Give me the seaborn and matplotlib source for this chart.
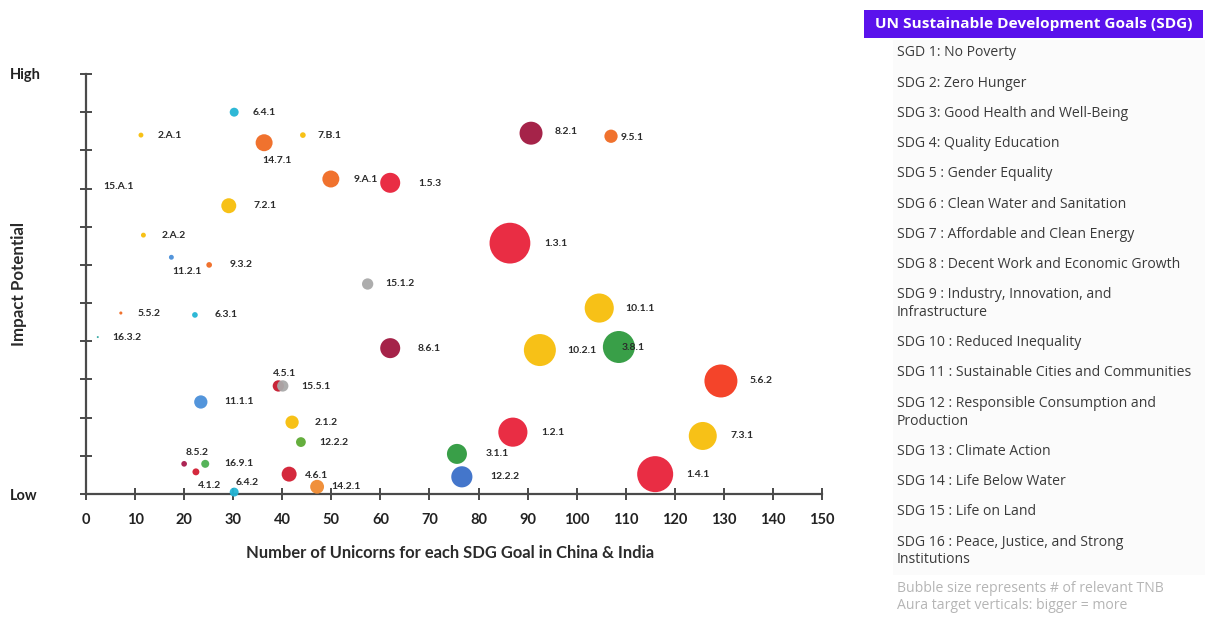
import matplotlib
matplotlib.use("Agg")
import matplotlib.pyplot as plt
import seaborn as sns
import pandas as pd
from matplotlib.patches import Rectangle

# ---- data -------------------------------------------------------------
targets = ["6.4.1", "2.A.1", "14.7.1", "7.B.1", "15.A.1", "9.A.1", "1.5.3",
           "7.2.1", "2.A.2", "11.2.1", "9.3.2", "8.2.1", "9.5.1", "1.3.1",
           "15.1.2", "5.5.2", "6.3.1", "16.3.2", "8.6.1", "4.5.1", "15.5.1",
           "11.1.1", "2.1.2", "12.2.2", "8.5.2", "16.9.1", "4.1.2", "4.6.1",
           "6.4.2", "14.2.1", "10.1.1", "10.2.1", "3.8.1", "5.6.2", "1.2.1",
           "7.3.1", "3.1.1", "12.2.2", "1.4.1"]
unicorns = [30.2, 11.2, 36.3, 44.2, 1.0, 49.9, 62.0,
            29.1, 11.7, 17.4, 25.1, 90.7, 107.0, 86.4,
            57.4, 7.1, 22.2, 2.4, 62.0, 39.2, 40.1,
            23.4, 42.0, 43.8, 20.0, 24.3, 22.4, 41.4,
            30.2, 47.1, 104.6, 92.5, 108.6, 129.4, 87.0,
            125.7, 75.6, 76.6, 116.0]
impact = [10.0, 9.4, 9.2, 9.4, 8.05, 8.25, 8.15,
          7.55, 6.78, 6.2, 6.0, 9.45, 9.37, 6.57,
          5.5, 4.74, 4.69, 4.11, 3.82, 2.83, 2.83,
          2.41, 1.88, 1.36, 0.79, 0.79, 0.58, 0.52,
          0.05, 0.19, 4.87, 3.77, 3.85, 2.96, 1.62,
          1.52, 1.05, 0.45, 0.52]
verticals = [5, 1.5, 18, 2, 0, 18, 25,
             14, 1.5, 1.5, 2, 33, 11, 104,
             8, 0.6, 2, 0.25, 25, 8, 8,
             11, 11, 6, 2, 4, 3, 14,
             5, 12, 53, 64, 64, 68, 53,
             49, 25, 28, 81]

impact_ticks = list(range(12))
impact_ticklabels = ["Low"] + [""] * 10 + ["High"]
unicorn_ticks = list(range(0, 151, 10))

sdg_items = ["SGD 1: No Poverty",
             "SDG 2: Zero Hunger",
             "SDG 3: Good Health and Well-Being",
             "SDG 4: Quality Education",
             "SDG 5 : Gender Equality",
             "SDG 6 : Clean Water and Sanitation",
             "SDG 7 : Affordable and Clean Energy",
             "SDG 8 : Decent Work and Economic Growth",
             "SDG 9 : Industry, Innovation, and\nInfrastructure",
             "SDG 10 : Reduced Inequality",
             "SDG 11 : Sustainable Cities and Communities",
             "SDG 12 : Responsible Consumption and\nProduction",
             "SDG 13 : Climate Action",
             "SDG 14 : Life Below Water",
             "SDG 15 : Life on Land",
             "SDG 16 : Peace, Justice, and Strong\nInstitutions"]
size_note = "Bubble size represents # of relevant TNB\nAura target verticals: bigger = more"

# ---- styling ----------------------------------------------------------
RED, YEL, ORG, CYA = "#E8213A", "#F7BE0A", "#F06A22", "#22B4D4"
MAR, BLU, GRY = "#A0173F", "#4A8FD9", "#A9A9A9"
bubble_colors = [CYA, YEL, ORG, YEL, "#FFFFFF", ORG, RED,
                 YEL, YEL, BLU, ORG, MAR, ORG, RED,
                 GRY, ORG, CYA, "#2BA5A0", MAR, "#C5192D", GRY,
                 BLU, YEL, "#5DAA33", "#A8194B", "#4CAF50", "#D21D32", "#D21D32",
                 CYA, "#F08A30", YEL, YEL, "#2E9A3E", "#F43A1E", RED,
                 YEL, "#2E9A3E", "#3A6FC9", RED]

# label offsets from bubble centre, in pixels (right, down)
label_offsets = [(18, 0), (17, 0), (-2, 18), (15, 0), (12, 0), (23, 0), (28, 1),
                 (25, 0), (18, 0), (1, 14), (20, 0), (24, -2), (10, 1), (34, 0),
                 (18, 0), (17, 0), (20, 0), (15, 0), (27, 0), (-5, -12), (19, 1),
                 (23, 0), (23, 0), (18, 0), (1, -11), (19, 0), (2, 14), (16, 1),
                 (1, -10), (14, 0), (26, 0), (27, 0), (3, 0), (29, 0), (28, 0),
                 (28, 0), (29, 0), (28, 0), (31, 0)]

sns.set_style("white")
plt.rcParams["font.family"] = ["Lato", "DejaVu Sans"]

df = pd.DataFrame({"target": targets, "unicorns": unicorns, "impact": impact,
                   "verticals": verticals, "colour": bubble_colors})

W, H = 1208, 617
fig = plt.figure(figsize=(W / 100, H / 100), dpi=100)
ax = fig.add_axes([86 / W, 1 - 494 / H, (822 - 86) / W, (494 - 74) / H])

# area proportional to verticals: diameter ~ 4 px * sqrt(verticals)
s_per_unit = (0.72 * 4) ** 2
vmax = max(verticals)
sns.scatterplot(data=df, x="unicorns", y="impact", hue="colour",
                palette={c: c for c in bubble_colors}, size="verticals",
                sizes=(0, s_per_unit * vmax), size_norm=(0, vmax),
                linewidth=0, alpha=0.95, legend=False, clip_on=False,
                zorder=3, ax=ax)

for t, x, y, (dx, dy) in zip(targets, unicorns, impact, label_offsets):
    ax.annotate(t, (x, y), xytext=(dx * 0.72, -dy * 0.72),
                textcoords="offset points", ha="left", va="center",
                fontsize=7.5, fontweight="bold", color="#2b2b2b", zorder=4)

ax.set_xlim(0, 150)
ax.set_ylim(0, 11)
ax.set_xticks(unicorn_ticks)
ax.set_xticklabels([str(v) for v in unicorn_ticks], fontsize=10.5,
                   fontweight="bold", color="#222222")
ax.set_yticks(impact_ticks)
ax.set_yticklabels(impact_ticklabels, fontsize=10.5, fontweight="bold",
                   color="#222222")
for lbl in ax.get_yticklabels():
    lbl.set_ha("left")

for side in ["top", "right"]:
    ax.spines[side].set_visible(False)
for side in ["left", "bottom"]:
    ax.spines[side].set_color("#4a4a4a")
    ax.spines[side].set_linewidth(1.6)
ax.tick_params(axis="both", direction="inout", length=9, width=1.4,
               color="#4a4a4a", bottom=True, left=True)
ax.tick_params(axis="x", pad=9)
ax.tick_params(axis="y", pad=50)

ax.set_xlabel("Number of Unicorns for each SDG Goal in China & India",
              fontsize=11.9, fontweight="bold", color="#2b2b2b")
ax.set_ylabel("Impact Potential", fontsize=12.2, fontweight="bold",
              color="#2b2b2b")
ax.xaxis.set_label_coords(0.4946, -0.122)
ax.yaxis.set_label_coords(-0.080, 0.50)

# ---- SDG key panel ----------------------------------------------------
def fx(px):
    return px / W


def fy(py):
    return 1 - py / H


fig.patches.append(Rectangle((fx(893), fy(575)), fx(1205) - fx(893),
                             fy(40) - fy(575), transform=fig.transFigure,
                             facecolor="#fbfbfb", edgecolor="none", zorder=0))
fig.patches.append(Rectangle((fx(864), fy(38)), fx(1203) - fx(864),
                             fy(10) - fy(38), transform=fig.transFigure,
                             facecolor="#5A12EC", edgecolor="none", zorder=1))
fig.text(fx(1034), fy(24), "UN Sustainable Development Goals (SDG)",
         ha="center", va="center", fontsize=11.1, fontweight="bold",
         color="white", family=["Open Sans", "DejaVu Sans"])

key_font = ["Open Sans", "DejaVu Sans"]
y = 53
for item in sdg_items:
    n = item.count("\n")
    # multi-line blocks are centred, so move the block down to keep the
    # first line on the running position
    fig.text(fx(897), fy(y + 9 * n), item, ha="left", va="center",
             fontsize=10.1, color="#3a3a3a", linespacing=1.25, family=key_font)
    y += 30.2 + 18 * n

fig.text(fx(897), fy(597), size_note, ha="left", va="center", fontsize=10.1,
         color="#b5b5b5", linespacing=1.25, family=key_font)

fig.savefig("out.png", dpi=100, facecolor="white")
